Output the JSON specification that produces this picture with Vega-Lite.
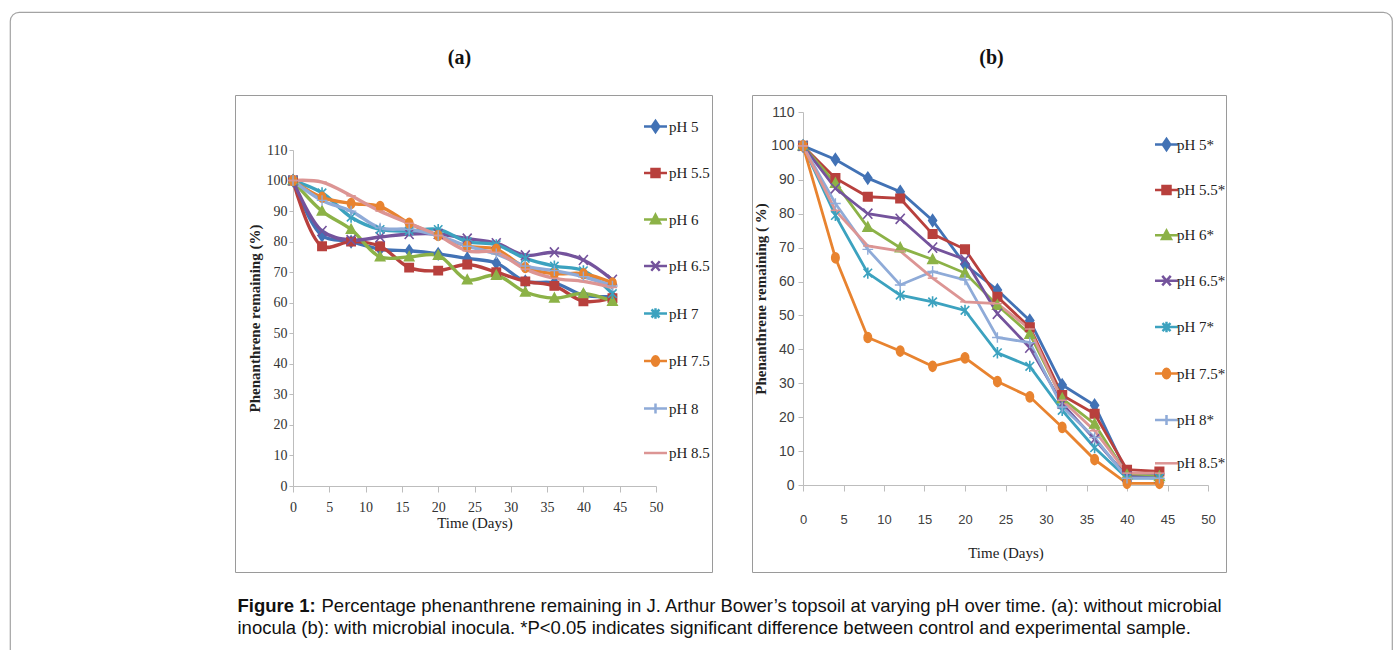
{
  "$schema": "https://vega.github.io/schema/vega-lite/v6.json",
  "width": 1382,
  "height": 650,
  "padding": {"left": 10, "top": 12, "right": 5, "bottom": 0},
  "autosize": {"type": "none"},
  "background": "white",
  "view": {"stroke": "#a3a3a3", "strokeWidth": 1.2, "cornerRadius": 9, "fill": "white"},
  "datasets": {
    "withoutInocula": [
      {"ph": "pH 5", "day": 0, "remaining": 100}, {"ph": "pH 5", "day": 4, "remaining": 82}, {"ph": "pH 5", "day": 8, "remaining": 80}, {"ph": "pH 5", "day": 12, "remaining": 77.5}, {"ph": "pH 5", "day": 16, "remaining": 77}, {"ph": "pH 5", "day": 20, "remaining": 76}, {"ph": "pH 5", "day": 24, "remaining": 74.5}, {"ph": "pH 5", "day": 28, "remaining": 73}, {"ph": "pH 5", "day": 32, "remaining": 67}, {"ph": "pH 5", "day": 36, "remaining": 66.5}, {"ph": "pH 5", "day": 40, "remaining": 62.5}, {"ph": "pH 5", "day": 44, "remaining": 62},
      {"ph": "pH 5.5", "day": 0, "remaining": 100}, {"ph": "pH 5.5", "day": 4, "remaining": 78.5}, {"ph": "pH 5.5", "day": 8, "remaining": 80}, {"ph": "pH 5.5", "day": 12, "remaining": 78.5}, {"ph": "pH 5.5", "day": 16, "remaining": 71.5}, {"ph": "pH 5.5", "day": 20, "remaining": 70.5}, {"ph": "pH 5.5", "day": 24, "remaining": 72.5}, {"ph": "pH 5.5", "day": 28, "remaining": 70}, {"ph": "pH 5.5", "day": 32, "remaining": 67}, {"ph": "pH 5.5", "day": 36, "remaining": 65.5}, {"ph": "pH 5.5", "day": 40, "remaining": 60.5}, {"ph": "pH 5.5", "day": 44, "remaining": 61.5},
      {"ph": "pH 6", "day": 0, "remaining": 100}, {"ph": "pH 6", "day": 4, "remaining": 90}, {"ph": "pH 6", "day": 8, "remaining": 84}, {"ph": "pH 6", "day": 12, "remaining": 75}, {"ph": "pH 6", "day": 16, "remaining": 75}, {"ph": "pH 6", "day": 20, "remaining": 75.5}, {"ph": "pH 6", "day": 24, "remaining": 67.5}, {"ph": "pH 6", "day": 28, "remaining": 69}, {"ph": "pH 6", "day": 32, "remaining": 63.5}, {"ph": "pH 6", "day": 36, "remaining": 61.5}, {"ph": "pH 6", "day": 40, "remaining": 63}, {"ph": "pH 6", "day": 44, "remaining": 60.5},
      {"ph": "pH 6.5", "day": 0, "remaining": 100}, {"ph": "pH 6.5", "day": 4, "remaining": 83.5}, {"ph": "pH 6.5", "day": 8, "remaining": 80.5}, {"ph": "pH 6.5", "day": 12, "remaining": 81.5}, {"ph": "pH 6.5", "day": 16, "remaining": 82.5}, {"ph": "pH 6.5", "day": 20, "remaining": 82.5}, {"ph": "pH 6.5", "day": 24, "remaining": 81}, {"ph": "pH 6.5", "day": 28, "remaining": 79.5}, {"ph": "pH 6.5", "day": 32, "remaining": 75.5}, {"ph": "pH 6.5", "day": 36, "remaining": 76.5}, {"ph": "pH 6.5", "day": 40, "remaining": 74}, {"ph": "pH 6.5", "day": 44, "remaining": 67.5},
      {"ph": "pH 7", "day": 0, "remaining": 100}, {"ph": "pH 7", "day": 4, "remaining": 96}, {"ph": "pH 7", "day": 8, "remaining": 88}, {"ph": "pH 7", "day": 12, "remaining": 84}, {"ph": "pH 7", "day": 16, "remaining": 83.5}, {"ph": "pH 7", "day": 20, "remaining": 84}, {"ph": "pH 7", "day": 24, "remaining": 80}, {"ph": "pH 7", "day": 28, "remaining": 79}, {"ph": "pH 7", "day": 32, "remaining": 74.5}, {"ph": "pH 7", "day": 36, "remaining": 72}, {"ph": "pH 7", "day": 40, "remaining": 70.5}, {"ph": "pH 7", "day": 44, "remaining": 63},
      {"ph": "pH 7.5", "day": 0, "remaining": 100}, {"ph": "pH 7.5", "day": 4, "remaining": 94.5}, {"ph": "pH 7.5", "day": 8, "remaining": 92.5}, {"ph": "pH 7.5", "day": 12, "remaining": 91.5}, {"ph": "pH 7.5", "day": 16, "remaining": 86}, {"ph": "pH 7.5", "day": 20, "remaining": 82}, {"ph": "pH 7.5", "day": 24, "remaining": 78.5}, {"ph": "pH 7.5", "day": 28, "remaining": 77.5}, {"ph": "pH 7.5", "day": 32, "remaining": 71.5}, {"ph": "pH 7.5", "day": 36, "remaining": 69.5}, {"ph": "pH 7.5", "day": 40, "remaining": 69.5}, {"ph": "pH 7.5", "day": 44, "remaining": 66.5},
      {"ph": "pH 8", "day": 0, "remaining": 100}, {"ph": "pH 8", "day": 4, "remaining": 93.5}, {"ph": "pH 8", "day": 8, "remaining": 90}, {"ph": "pH 8", "day": 12, "remaining": 84.5}, {"ph": "pH 8", "day": 16, "remaining": 84}, {"ph": "pH 8", "day": 20, "remaining": 82}, {"ph": "pH 8", "day": 24, "remaining": 78.5}, {"ph": "pH 8", "day": 28, "remaining": 76}, {"ph": "pH 8", "day": 32, "remaining": 72}, {"ph": "pH 8", "day": 36, "remaining": 70.5}, {"ph": "pH 8", "day": 40, "remaining": 68.5}, {"ph": "pH 8", "day": 44, "remaining": 65.5},
      {"ph": "pH 8.5", "day": 0, "remaining": 100}, {"ph": "pH 8.5", "day": 4, "remaining": 99.5}, {"ph": "pH 8.5", "day": 8, "remaining": 95}, {"ph": "pH 8.5", "day": 12, "remaining": 90}, {"ph": "pH 8.5", "day": 16, "remaining": 86}, {"ph": "pH 8.5", "day": 20, "remaining": 82}, {"ph": "pH 8.5", "day": 24, "remaining": 77}, {"ph": "pH 8.5", "day": 28, "remaining": 76.5}, {"ph": "pH 8.5", "day": 32, "remaining": 71}, {"ph": "pH 8.5", "day": 36, "remaining": 68}, {"ph": "pH 8.5", "day": 40, "remaining": 67}, {"ph": "pH 8.5", "day": 44, "remaining": 65}
    ],
    "withInocula": [
      {"ph": "pH 5*", "day": 0, "remaining": 100}, {"ph": "pH 5*", "day": 4, "remaining": 96}, {"ph": "pH 5*", "day": 8, "remaining": 90.5}, {"ph": "pH 5*", "day": 12, "remaining": 86.5}, {"ph": "pH 5*", "day": 16, "remaining": 78}, {"ph": "pH 5*", "day": 20, "remaining": 65}, {"ph": "pH 5*", "day": 24, "remaining": 57.5}, {"ph": "pH 5*", "day": 28, "remaining": 48.5}, {"ph": "pH 5*", "day": 32, "remaining": 29.5}, {"ph": "pH 5*", "day": 36, "remaining": 23.5}, {"ph": "pH 5*", "day": 40, "remaining": 3.5}, {"ph": "pH 5*", "day": 44, "remaining": 3},
      {"ph": "pH 5.5*", "day": 0, "remaining": 100}, {"ph": "pH 5.5*", "day": 4, "remaining": 90.5}, {"ph": "pH 5.5*", "day": 8, "remaining": 85}, {"ph": "pH 5.5*", "day": 12, "remaining": 84.5}, {"ph": "pH 5.5*", "day": 16, "remaining": 74}, {"ph": "pH 5.5*", "day": 20, "remaining": 69.5}, {"ph": "pH 5.5*", "day": 24, "remaining": 55.5}, {"ph": "pH 5.5*", "day": 28, "remaining": 46.5}, {"ph": "pH 5.5*", "day": 32, "remaining": 26.5}, {"ph": "pH 5.5*", "day": 36, "remaining": 21}, {"ph": "pH 5.5*", "day": 40, "remaining": 4.5}, {"ph": "pH 5.5*", "day": 44, "remaining": 4},
      {"ph": "pH 6*", "day": 0, "remaining": 100}, {"ph": "pH 6*", "day": 4, "remaining": 89}, {"ph": "pH 6*", "day": 8, "remaining": 76}, {"ph": "pH 6*", "day": 12, "remaining": 70}, {"ph": "pH 6*", "day": 16, "remaining": 66.5}, {"ph": "pH 6*", "day": 20, "remaining": 62.5}, {"ph": "pH 6*", "day": 24, "remaining": 53}, {"ph": "pH 6*", "day": 28, "remaining": 44.5}, {"ph": "pH 6*", "day": 32, "remaining": 25.5}, {"ph": "pH 6*", "day": 36, "remaining": 18}, {"ph": "pH 6*", "day": 40, "remaining": 3}, {"ph": "pH 6*", "day": 44, "remaining": 2.5},
      {"ph": "pH 6.5*", "day": 0, "remaining": 100}, {"ph": "pH 6.5*", "day": 4, "remaining": 87.5}, {"ph": "pH 6.5*", "day": 8, "remaining": 80}, {"ph": "pH 6.5*", "day": 12, "remaining": 78.5}, {"ph": "pH 6.5*", "day": 16, "remaining": 70}, {"ph": "pH 6.5*", "day": 20, "remaining": 66.5}, {"ph": "pH 6.5*", "day": 24, "remaining": 50.5}, {"ph": "pH 6.5*", "day": 28, "remaining": 40.5}, {"ph": "pH 6.5*", "day": 32, "remaining": 24}, {"ph": "pH 6.5*", "day": 36, "remaining": 13.5}, {"ph": "pH 6.5*", "day": 40, "remaining": 2.5}, {"ph": "pH 6.5*", "day": 44, "remaining": 2},
      {"ph": "pH 7*", "day": 0, "remaining": 100}, {"ph": "pH 7*", "day": 4, "remaining": 79.5}, {"ph": "pH 7*", "day": 8, "remaining": 62.5}, {"ph": "pH 7*", "day": 12, "remaining": 56}, {"ph": "pH 7*", "day": 16, "remaining": 54}, {"ph": "pH 7*", "day": 20, "remaining": 51.5}, {"ph": "pH 7*", "day": 24, "remaining": 39}, {"ph": "pH 7*", "day": 28, "remaining": 35}, {"ph": "pH 7*", "day": 32, "remaining": 22}, {"ph": "pH 7*", "day": 36, "remaining": 11}, {"ph": "pH 7*", "day": 40, "remaining": 2}, {"ph": "pH 7*", "day": 44, "remaining": 2},
      {"ph": "pH 7.5*", "day": 0, "remaining": 100}, {"ph": "pH 7.5*", "day": 4, "remaining": 67}, {"ph": "pH 7.5*", "day": 8, "remaining": 43.5}, {"ph": "pH 7.5*", "day": 12, "remaining": 39.5}, {"ph": "pH 7.5*", "day": 16, "remaining": 35}, {"ph": "pH 7.5*", "day": 20, "remaining": 37.5}, {"ph": "pH 7.5*", "day": 24, "remaining": 30.5}, {"ph": "pH 7.5*", "day": 28, "remaining": 26}, {"ph": "pH 7.5*", "day": 32, "remaining": 17}, {"ph": "pH 7.5*", "day": 36, "remaining": 7.5}, {"ph": "pH 7.5*", "day": 40, "remaining": 0.5}, {"ph": "pH 7.5*", "day": 44, "remaining": 0.5},
      {"ph": "pH 8*", "day": 0, "remaining": 100}, {"ph": "pH 8*", "day": 4, "remaining": 83}, {"ph": "pH 8*", "day": 8, "remaining": 69.5}, {"ph": "pH 8*", "day": 12, "remaining": 59}, {"ph": "pH 8*", "day": 16, "remaining": 63}, {"ph": "pH 8*", "day": 20, "remaining": 60.5}, {"ph": "pH 8*", "day": 24, "remaining": 43.5}, {"ph": "pH 8*", "day": 28, "remaining": 42}, {"ph": "pH 8*", "day": 32, "remaining": 23}, {"ph": "pH 8*", "day": 36, "remaining": 14}, {"ph": "pH 8*", "day": 40, "remaining": 2}, {"ph": "pH 8*", "day": 44, "remaining": 2},
      {"ph": "pH 8.5*", "day": 0, "remaining": 100}, {"ph": "pH 8.5*", "day": 4, "remaining": 81}, {"ph": "pH 8.5*", "day": 8, "remaining": 70.5}, {"ph": "pH 8.5*", "day": 12, "remaining": 69}, {"ph": "pH 8.5*", "day": 16, "remaining": 61}, {"ph": "pH 8.5*", "day": 20, "remaining": 54}, {"ph": "pH 8.5*", "day": 24, "remaining": 53.5}, {"ph": "pH 8.5*", "day": 28, "remaining": 46}, {"ph": "pH 8.5*", "day": 32, "remaining": 25}, {"ph": "pH 8.5*", "day": 36, "remaining": 16}, {"ph": "pH 8.5*", "day": 40, "remaining": 3.5}, {"ph": "pH 8.5*", "day": 44, "remaining": 3.5}
    ],
    "frame": [{}]
  },
  "layer": [
    {
      "data": {"name": "withoutInocula"},
      "encoding": {
        "x": {"field": "day", "type": "quantitative"},
        "y": {"field": "remaining", "type": "quantitative"}
      },
      "layer": [
        {
          "mark": {"type": "line", "interpolate": "catmull-rom", "strokeWidth": 3.4},
          "encoding": {
            "x": {"field": "day", "type": "quantitative",
              "scale": {"domain": [0, 50], "range": [283, 646], "nice": false, "zero": false},
              "axis": {"orient": "bottom", "offset": -176, "values": [0, 5, 10, 15, 20, 25, 30, 35, 40, 45, 50],
                "tickSize": 6, "labelPadding": 8, "labelFont": "Liberation Serif", "labelFontSize": 14, "labelColor": "#333333",
                "title": "Time (Days)", "titleFont": "Liberation Serif", "titleFontSize": 15, "titleFontWeight": "normal", "titleColor": "#222222", "titlePadding": 1}},
            "y": {"field": "remaining", "type": "quantitative",
              "scale": {"domain": [0, 110], "range": [474, 138], "nice": false, "zero": false},
              "axis": {"orient": "left", "offset": -283, "values": [0, 10, 20, 30, 40, 50, 60, 70, 80, 90, 100, 110],
                "tickSize": 4, "labelPadding": 2, "labelFont": "Liberation Serif", "labelFontSize": 14, "labelColor": "#333333",
                "title": "Phenanthrene remaining (%)", "titleFont": "Liberation Serif", "titleFontSize": 15, "titleFontWeight": "bold", "titleColor": "#222222", "titlePadding": 4}},
            "color": {"field": "ph", "type": "nominal",
              "scale": {"domain": ["pH 5", "pH 5.5", "pH 6", "pH 6.5", "pH 7", "pH 7.5", "pH 8", "pH 8.5"],
                "range": ["#4272B5", "#B8403D", "#8CB247", "#74539C", "#3CA2BF", "#E8832F", "#8FABD8", "#DC9594"]},
              "legend": {"orient": "none", "legendX": 638, "legendY": 107, "direction": "vertical", "title": null, "padding": 0,
                "labelFont": "Liberation Serif", "labelFontSize": 15, "labelColor": "#222222", "labelOffset": 6,
                "symbolSize": 100, "symbolStrokeWidth": 2.5, "symbolOpacity": 1, "rowPadding": 26.5}}
          }
        },
        {
          "mark": {"type": "point", "filled": true, "opacity": 0, "size": 100},
          "encoding": {
            "color": {"field": "ph", "type": "nominal"},
            "shape": {"field": "ph", "type": "nominal",
              "scale": {"domain": ["pH 5", "pH 5.5", "pH 6", "pH 6.5", "pH 7", "pH 7.5", "pH 8", "pH 8.5"],
                "range": ["M-2.3,0H2.3M0,-1.1L0.75,0L0,1.1L-0.75,0Z", "M-2.3,0H2.3M-0.8,-0.8H0.8V0.8H-0.8Z", "M-2.3,0H2.3M0,-0.95L0.9,0.75H-0.9Z", "M-2.3,0H2.3M-0.85,-0.95L0.85,0.95M0.85,-0.95L-0.85,0.95", "M-2.3,0H2.3M-0.8,-0.8L0.8,0.8M0.8,-0.8L-0.8,0.8M0,-1.05V1.05", "M-2.3,0H2.3M-0.7,0A0.7,0.95 0 1,0 0.7,0A0.7,0.95 0 1,0 -0.7,0Z", "M-2.3,0H2.3M0,-1V1", "M-2.3,0H2.3"]},
              "legend": {"orient": "none", "legendX": 638, "legendY": 107, "direction": "vertical", "title": null, "padding": 0,
                "labelFont": "Liberation Serif", "labelFontSize": 15, "labelColor": "#222222", "labelOffset": 6,
                "symbolSize": 100, "symbolStrokeWidth": 2.5, "symbolOpacity": 1, "rowPadding": 26.5}}
          }
        },
        {"transform": [{"filter": "datum.ph === 'pH 5'"}], "mark": {"type": "point", "shape": "M0,-1.1L0.75,0L0,1.1L-0.75,0Z", "filled": true, "fill": "#4272B5", "stroke": "#4272B5", "strokeWidth": 1.5, "size": 110, "opacity": 1}},
        {"transform": [{"filter": "datum.ph === 'pH 5.5'"}], "mark": {"type": "point", "shape": "M-0.8,-0.8H0.8V0.8H-0.8Z", "filled": true, "fill": "#B8403D", "stroke": "#B8403D", "strokeWidth": 1.5, "size": 110, "opacity": 1}},
        {"transform": [{"filter": "datum.ph === 'pH 6'"}], "mark": {"type": "point", "shape": "M0,-0.95L0.9,0.75H-0.9Z", "filled": true, "fill": "#8CB247", "stroke": "#8CB247", "strokeWidth": 1.5, "size": 110, "opacity": 1}},
        {"transform": [{"filter": "datum.ph === 'pH 6.5'"}], "mark": {"type": "point", "shape": "M-0.85,-0.95L0.85,0.95M0.85,-0.95L-0.85,0.95", "filled": false, "stroke": "#74539C", "strokeWidth": 1.6, "size": 110, "opacity": 1}},
        {"transform": [{"filter": "datum.ph === 'pH 7'"}], "mark": {"type": "point", "shape": "M-0.8,-0.8L0.8,0.8M0.8,-0.8L-0.8,0.8M0,-1.05V1.05", "filled": false, "stroke": "#3CA2BF", "strokeWidth": 1.6, "size": 110, "opacity": 1}},
        {"transform": [{"filter": "datum.ph === 'pH 7.5'"}], "mark": {"type": "point", "shape": "M-0.7,0A0.7,0.95 0 1,0 0.7,0A0.7,0.95 0 1,0 -0.7,0Z", "filled": true, "fill": "#E8832F", "stroke": "#E8832F", "strokeWidth": 1.5, "size": 110, "opacity": 1}},
        {"transform": [{"filter": "datum.ph === 'pH 8'"}], "mark": {"type": "point", "shape": "M-1,0H1M0,-1V1", "filled": false, "stroke": "#8FABD8", "strokeWidth": 1.4, "size": 110, "opacity": 1}},
        {"transform": [{"filter": "datum.ph === 'pH 8.5'"}], "mark": {"type": "point", "shape": "M-0.9,0H0.9", "filled": false, "stroke": "#DC9594", "strokeWidth": 1.5, "size": 110, "opacity": 1}}
      ]
    },
    {
      "data": {"name": "withInocula"},
      "encoding": {
        "x": {"field": "day", "type": "quantitative"},
        "y": {"field": "remaining", "type": "quantitative"}
      },
      "layer": [
        {
          "mark": {"type": "line", "strokeWidth": 2.8},
          "encoding": {
            "x": {"field": "day", "type": "quantitative",
              "scale": {"domain": [0, 50], "range": [793, 1198], "nice": false, "zero": false},
              "axis": {"orient": "bottom", "offset": -177, "values": [0, 5, 10, 15, 20, 25, 30, 35, 40, 45, 50],
                "tickSize": 6, "labelPadding": 22, "labelFont": "Liberation Sans", "labelFontSize": 13, "labelColor": "#404040",
                "title": "Time (Days)", "titleFont": "Liberation Serif", "titleFontSize": 15, "titleFontWeight": "normal", "titleColor": "#222222", "titlePadding": 19}},
            "y": {"field": "remaining", "type": "quantitative",
              "scale": {"domain": [0, 110], "range": [473, 100], "nice": false, "zero": false},
              "axis": {"orient": "left", "offset": -793, "values": [0, 10, 20, 30, 40, 50, 60, 70, 80, 90, 100, 110],
                "tickSize": 5, "labelPadding": 4, "labelFont": "Liberation Sans", "labelFontSize": 14, "labelColor": "#404040",
                "title": "Phenanthrene remaining ( %)", "titleFont": "Liberation Serif", "titleFontSize": 15, "titleFontWeight": "bold", "titleColor": "#222222", "titlePadding": 2}},
            "color": {"field": "ph", "type": "nominal",
              "scale": {"domain": ["pH 5*", "pH 5.5*", "pH 6*", "pH 6.5*", "pH 7*", "pH 7.5*", "pH 8*", "pH 8.5*"],
                "range": ["#4272B5", "#B8403D", "#8CB247", "#74539C", "#3CA2BF", "#E8832F", "#8FABD8", "#DC9594"]},
              "legend": {"orient": "none", "legendX": 1149, "legendY": 125, "direction": "vertical", "title": null, "padding": 0,
                "labelFont": "Liberation Serif", "labelFontSize": 15, "labelColor": "#222222", "labelOffset": 3,
                "symbolSize": 100, "symbolStrokeWidth": 2.5, "symbolOpacity": 1, "rowPadding": 25.4}}
          }
        },
        {
          "mark": {"type": "point", "filled": true, "opacity": 0, "size": 100},
          "encoding": {
            "color": {"field": "ph", "type": "nominal"},
            "shape": {"field": "ph", "type": "nominal",
              "scale": {"domain": ["pH 5*", "pH 5.5*", "pH 6*", "pH 6.5*", "pH 7*", "pH 7.5*", "pH 8*", "pH 8.5*"],
                "range": ["M-2.3,0H2.3M0,-1.1L0.75,0L0,1.1L-0.75,0Z", "M-2.3,0H2.3M-0.8,-0.8H0.8V0.8H-0.8Z", "M-2.3,0H2.3M0,-0.95L0.9,0.75H-0.9Z", "M-2.3,0H2.3M-0.85,-0.95L0.85,0.95M0.85,-0.95L-0.85,0.95", "M-2.3,0H2.3M-0.8,-0.8L0.8,0.8M0.8,-0.8L-0.8,0.8M0,-1.05V1.05", "M-2.3,0H2.3M-0.7,0A0.7,0.95 0 1,0 0.7,0A0.7,0.95 0 1,0 -0.7,0Z", "M-2.3,0H2.3M0,-1V1", "M-2.3,0H2.3"]},
              "legend": {"orient": "none", "legendX": 1149, "legendY": 125, "direction": "vertical", "title": null, "padding": 0,
                "labelFont": "Liberation Serif", "labelFontSize": 15, "labelColor": "#222222", "labelOffset": 3,
                "symbolSize": 100, "symbolStrokeWidth": 2.5, "symbolOpacity": 1, "rowPadding": 25.4}}
          }
        },
        {"transform": [{"filter": "datum.ph === 'pH 5*'"}], "mark": {"type": "point", "shape": "M0,-1.1L0.75,0L0,1.1L-0.75,0Z", "filled": true, "fill": "#4272B5", "stroke": "#4272B5", "strokeWidth": 1.5, "size": 115, "opacity": 1}},
        {"transform": [{"filter": "datum.ph === 'pH 5.5*'"}], "mark": {"type": "point", "shape": "M-0.8,-0.8H0.8V0.8H-0.8Z", "filled": true, "fill": "#B8403D", "stroke": "#B8403D", "strokeWidth": 1.5, "size": 115, "opacity": 1}},
        {"transform": [{"filter": "datum.ph === 'pH 6*'"}], "mark": {"type": "point", "shape": "M0,-0.95L0.9,0.75H-0.9Z", "filled": true, "fill": "#8CB247", "stroke": "#8CB247", "strokeWidth": 1.5, "size": 115, "opacity": 1}},
        {"transform": [{"filter": "datum.ph === 'pH 6.5*'"}], "mark": {"type": "point", "shape": "M-0.85,-0.95L0.85,0.95M0.85,-0.95L-0.85,0.95", "filled": false, "stroke": "#74539C", "strokeWidth": 1.6, "size": 115, "opacity": 1}},
        {"transform": [{"filter": "datum.ph === 'pH 7*'"}], "mark": {"type": "point", "shape": "M-0.8,-0.8L0.8,0.8M0.8,-0.8L-0.8,0.8M0,-1.05V1.05", "filled": false, "stroke": "#3CA2BF", "strokeWidth": 1.6, "size": 115, "opacity": 1}},
        {"transform": [{"filter": "datum.ph === 'pH 7.5*'"}], "mark": {"type": "point", "shape": "M-0.7,0A0.7,0.95 0 1,0 0.7,0A0.7,0.95 0 1,0 -0.7,0Z", "filled": true, "fill": "#E8832F", "stroke": "#E8832F", "strokeWidth": 1.5, "size": 115, "opacity": 1}},
        {"transform": [{"filter": "datum.ph === 'pH 8*'"}], "mark": {"type": "point", "shape": "M-1,0H1M0,-1V1", "filled": false, "stroke": "#8FABD8", "strokeWidth": 1.4, "size": 115, "opacity": 1}},
        {"transform": [{"filter": "datum.ph === 'pH 8.5*'"}], "mark": {"type": "point", "shape": "M-0.9,0H0.9", "filled": false, "stroke": "#DC9594", "strokeWidth": 1.5, "size": 115, "opacity": 1}}
      ]
    },
    {
      "data": {"name": "frame"},
      "mark": {"type": "point", "opacity": 0, "size": 0},
      "encoding": {
        "x": {"datum": 0, "type": "quantitative", "scale": {"domain": [0, 1], "range": [225, 702], "nice": false, "zero": false},
          "axis": {"orient": "top", "offset": -83, "ticks": false, "labels": false, "domainColor": "#9a9a9a",
            "title": "(a)", "titleX": 449, "titleY": -38, "titleAlign": "center", "titleBaseline": "middle", "titleAngle": 0,
            "titleFont": "Liberation Serif", "titleFontSize": 20, "titleFontWeight": "bold", "titleColor": "#111111"}},
        "y": {"datum": 0, "type": "quantitative", "scale": {"domain": [0, 1], "range": [560, 83], "nice": false, "zero": false},
          "axis": {"orient": "left", "offset": -225, "ticks": false, "labels": false, "domainColor": "#9a9a9a",
            "title": "inocula (b): with microbial inocula. *P<0.05 indicates significant difference between control and experimental sample.",
            "titleX": 2, "titleY": 615, "titleAngle": 0, "titleAlign": "left", "titleBaseline": "middle",
            "titleFont": "Liberation Sans", "titleFontSize": 18.5, "titleFontWeight": "normal", "titleColor": "#111111"}}
      }
    },
    {
      "data": {"name": "frame"},
      "mark": {"type": "point", "opacity": 0, "size": 0},
      "encoding": {
        "x": {"datum": 0, "type": "quantitative", "scale": {"domain": [0, 1], "range": [225, 702], "nice": false, "zero": false},
          "axis": {"orient": "bottom", "offset": -90, "ticks": false, "labels": false, "domainColor": "#9a9a9a",
            "title": "Figure 1:", "titleX": 227, "titleY": 33, "titleAngle": 0, "titleAlign": "left", "titleBaseline": "middle",
            "titleFont": "Liberation Sans", "titleFontSize": 18.5, "titleFontWeight": "bold", "titleColor": "#111111"}},
        "y": {"datum": 0, "type": "quantitative", "scale": {"domain": [0, 1], "range": [560, 83], "nice": false, "zero": false},
          "axis": {"orient": "right", "offset": -680, "ticks": false, "labels": false, "domainColor": "#9a9a9a", "title": null}}
      }
    },
    {
      "data": {"name": "frame"},
      "mark": {"type": "point", "opacity": 0, "size": 0},
      "encoding": {
        "x": {"datum": 0, "type": "quantitative", "scale": {"domain": [0, 1], "range": [742, 1216], "nice": false, "zero": false},
          "axis": {"orient": "top", "offset": -83, "ticks": false, "labels": false, "domainColor": "#9a9a9a",
            "title": "(b)", "titleX": 981, "titleY": -38, "titleAlign": "center", "titleBaseline": "middle", "titleAngle": 0,
            "titleFont": "Liberation Serif", "titleFontSize": 20, "titleFontWeight": "bold", "titleColor": "#111111"}},
        "y": {"datum": 0, "type": "quantitative", "scale": {"domain": [0, 1], "range": [560, 83], "nice": false, "zero": false},
          "axis": {"orient": "left", "offset": -742, "ticks": false, "labels": false, "domainColor": "#9a9a9a", "title": null}}
      }
    },
    {
      "data": {"name": "frame"},
      "mark": {"type": "point", "opacity": 0, "size": 0},
      "encoding": {
        "x": {"datum": 0, "type": "quantitative", "scale": {"domain": [0, 1], "range": [742, 1216], "nice": false, "zero": false},
          "axis": {"orient": "bottom", "offset": -90, "ticks": false, "labels": false, "domainColor": "#9a9a9a",
            "title": "Percentage phenanthrene remaining in J. Arthur Bower’s topsoil at varying pH over time. (a): without microbial",
            "titleX": 311, "titleY": 33, "titleAngle": 0, "titleAlign": "left", "titleBaseline": "middle",
            "titleFont": "Liberation Sans", "titleFontSize": 18.5, "titleFontWeight": "normal", "titleColor": "#111111"}},
        "y": {"datum": 0, "type": "quantitative", "scale": {"domain": [0, 1], "range": [560, 83], "nice": false, "zero": false},
          "axis": {"orient": "right", "offset": -166, "ticks": false, "labels": false, "domainColor": "#9a9a9a", "title": null}}
      }
    }
  ],
  "resolve": {
    "scale": {"x": "independent", "y": "independent", "color": "independent", "shape": "independent"},
    "axis": {"x": "independent", "y": "independent"},
    "legend": {"color": "independent", "shape": "independent"}
  },
  "config": {
    "axis": {"grid": false, "labelFlush": false, "labelOverlap": false, "domainColor": "#bdbdbd", "tickColor": "#bdbdbd", "domainWidth": 1, "tickWidth": 1}
  }
}
